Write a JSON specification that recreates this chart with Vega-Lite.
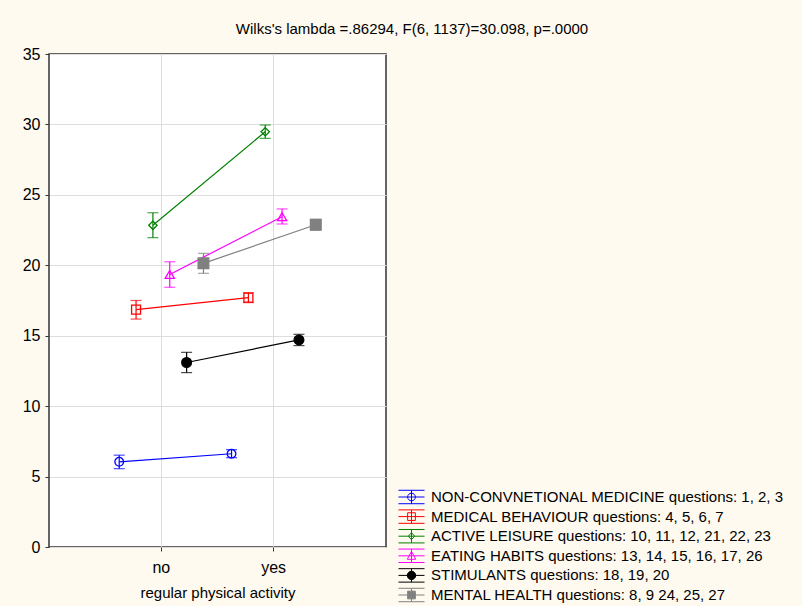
{
  "$schema": "https://vega.github.io/schema/vega-lite/v6.json",
  "autosize": {"type": "none"},
  "width": 337,
  "height": 493,
  "padding": {"left": 49, "top": 54, "right": 416, "bottom": 59},
  "background": "#FFFAF0",
  "title": {
    "text": "Wilks's lambda =.86294, F(6, 1137)=30.098, p=.0000",
    "font": "Liberation Sans",
    "fontSize": 15,
    "fontWeight": "normal",
    "color": "#000000",
    "anchor": "middle",
    "frame": "group",
    "dx": 194.5,
    "offset": 9
  },
  "config": {
    "view": {"fill": "#FFFFFF", "stroke": "#333333", "strokeWidth": 1.5},
    "axis": {
      "labelFont": "Liberation Sans",
      "titleFont": "Liberation Sans",
      "labelColor": "#000000",
      "titleColor": "#000000",
      "tickColor": "#333333",
      "gridColor": "#DDDDDD",
      "gridWidth": 1,
      "domain": false
    }
  },
  "data": {
    "values": [
      {"activity": "no", "series": "NON-CONVNETIONAL MEDICINE questions: 1,  2,  3", "mean": 6.05, "lo": 5.56, "hi": 6.52},
      {"activity": "yes", "series": "NON-CONVNETIONAL MEDICINE questions: 1,  2,  3", "mean": 6.62, "lo": 6.34, "hi": 6.91},
      {"activity": "no", "series": "MEDICAL BEHAVIOUR questions: 4, 5, 6, 7", "mean": 16.85, "lo": 16.18, "hi": 17.5},
      {"activity": "yes", "series": "MEDICAL BEHAVIOUR questions: 4, 5, 6, 7", "mean": 17.7, "lo": 17.35, "hi": 18.05},
      {"activity": "no", "series": "ACTIVE LEISURE questions: 10, 11, 12, 21, 22, 23", "mean": 22.84, "lo": 21.96, "hi": 23.73},
      {"activity": "yes", "series": "ACTIVE LEISURE questions: 10, 11, 12, 21, 22, 23", "mean": 29.48, "lo": 29.01, "hi": 29.96},
      {"activity": "no", "series": "EATING HABITS questions: 13, 14, 15, 16, 17, 26", "mean": 19.35, "lo": 18.44, "hi": 20.25},
      {"activity": "yes", "series": "EATING HABITS questions: 13, 14, 15, 16, 17, 26", "mean": 23.45, "lo": 22.93, "hi": 24.0},
      {"activity": "no", "series": "STIMULANTS questions: 18, 19, 20", "mean": 13.1, "lo": 12.38, "hi": 13.82},
      {"activity": "yes", "series": "STIMULANTS questions: 18, 19, 20", "mean": 14.7, "lo": 14.3, "hi": 15.1},
      {"activity": "no", "series": "MENTAL HEALTH questions: 8, 9  24, 25, 27", "mean": 20.14, "lo": 19.43, "hi": 20.85},
      {"activity": "yes", "series": "MENTAL HEALTH questions: 8, 9  24, 25, 27", "mean": 22.88, "lo": 22.5, "hi": 23.26}
    ]
  },
  "encoding": {
    "x": {
      "field": "activity",
      "type": "nominal",
      "scale": {"type": "band", "domain": ["no", "yes"], "paddingInner": 0.1, "paddingOuter": 0.55},
      "axis": {
        "title": "regular physical activity",
        "titleFontSize": 15,
        "titleFontWeight": "normal",
        "titlePadding": 10,
        "labelFontSize": 16,
        "labelAngle": 0,
        "labelPadding": 8,
        "tickSize": 4,
        "bandPosition": 0.5,
        "grid": true
      }
    },
    "xOffset": {
      "field": "series",
      "type": "nominal",
      "sort": null,
      "scale": {
        "domain": [
          "NON-CONVNETIONAL MEDICINE questions: 1,  2,  3",
          "MEDICAL BEHAVIOUR questions: 4, 5, 6, 7",
          "ACTIVE LEISURE questions: 10, 11, 12, 21, 22, 23",
          "EATING HABITS questions: 13, 14, 15, 16, 17, 26",
          "STIMULANTS questions: 18, 19, 20",
          "MENTAL HEALTH questions: 8, 9  24, 25, 27"
        ],
        "paddingInner": 0,
        "paddingOuter": 0
      }
    }
  },
  "resolve": {
    "scale": {"shape": "independent", "stroke": "independent", "fill": "independent"},
    "legend": {"shape": "independent", "stroke": "independent", "fill": "independent"}
  },
  "layer": [
    {
      "mark": {"type": "rule", "strokeWidth": 1.2},
      "encoding": {
        "y": {
          "field": "lo",
          "type": "quantitative",
          "scale": {"domain": [0, 35], "nice": false, "zero": true},
          "axis": {
            "title": null,
            "values": [0, 5, 10, 15, 20, 25, 30, 35],
            "labelFontSize": 16,
            "labelPadding": 5,
            "tickSize": 4,
            "grid": true
          }
        },
        "y2": {"field": "hi"},
        "color": {
          "field": "series",
          "type": "nominal",
          "legend": null,
          "scale": {
            "domain": [
              "NON-CONVNETIONAL MEDICINE questions: 1,  2,  3",
              "MEDICAL BEHAVIOUR questions: 4, 5, 6, 7",
              "ACTIVE LEISURE questions: 10, 11, 12, 21, 22, 23",
              "EATING HABITS questions: 13, 14, 15, 16, 17, 26",
              "STIMULANTS questions: 18, 19, 20",
              "MENTAL HEALTH questions: 8, 9  24, 25, 27"
            ],
            "range": ["#0000FF", "#FF0000", "#008000", "#FF00FF", "#000000", "#808080"]
          }
        }
      }
    },
    {
      "mark": {"type": "tick", "orient": "horizontal", "size": 11, "thickness": 1.2},
      "encoding": {
        "y": {"field": "lo", "type": "quantitative"},
        "color": {"field": "series", "type": "nominal", "legend": null}
      }
    },
    {
      "mark": {"type": "tick", "orient": "horizontal", "size": 11, "thickness": 1.2},
      "encoding": {
        "y": {"field": "hi", "type": "quantitative"},
        "color": {"field": "series", "type": "nominal", "legend": null}
      }
    },
    {
      "mark": {"type": "line", "strokeWidth": 1.2},
      "encoding": {
        "y": {"field": "mean", "type": "quantitative"},
        "color": {"field": "series", "type": "nominal", "legend": null}
      }
    },
    {
      "mark": {"type": "point", "filled": false, "strokeWidth": 1.3, "opacity": 1},
      "encoding": {
        "y": {"field": "mean", "type": "quantitative"},
        "size": {
          "field": "series",
          "type": "nominal",
          "legend": null,
          "scale": {
            "type": "ordinal",
            "domain": [
              "NON-CONVNETIONAL MEDICINE questions: 1,  2,  3",
              "MEDICAL BEHAVIOUR questions: 4, 5, 6, 7",
              "ACTIVE LEISURE questions: 10, 11, 12, 21, 22, 23",
              "EATING HABITS questions: 13, 14, 15, 16, 17, 26",
              "STIMULANTS questions: 18, 19, 20",
              "MENTAL HEALTH questions: 8, 9  24, 25, 27"
            ],
            "range": [75, 80, 70, 85, 95, 115]
          }
        },
        "shape": {
          "field": "series",
          "type": "nominal",
          "legend": null,
          "scale": {
            "domain": [
              "NON-CONVNETIONAL MEDICINE questions: 1,  2,  3",
              "MEDICAL BEHAVIOUR questions: 4, 5, 6, 7",
              "ACTIVE LEISURE questions: 10, 11, 12, 21, 22, 23",
              "EATING HABITS questions: 13, 14, 15, 16, 17, 26",
              "STIMULANTS questions: 18, 19, 20",
              "MENTAL HEALTH questions: 8, 9  24, 25, 27"
            ],
            "range": ["circle", "square", "diamond", "triangle-up", "circle", "square"]
          }
        },
        "stroke": {
          "field": "series",
          "type": "nominal",
          "legend": null,
          "scale": {
            "domain": [
              "NON-CONVNETIONAL MEDICINE questions: 1,  2,  3",
              "MEDICAL BEHAVIOUR questions: 4, 5, 6, 7",
              "ACTIVE LEISURE questions: 10, 11, 12, 21, 22, 23",
              "EATING HABITS questions: 13, 14, 15, 16, 17, 26",
              "STIMULANTS questions: 18, 19, 20",
              "MENTAL HEALTH questions: 8, 9  24, 25, 27"
            ],
            "range": ["#0000FF", "#FF0000", "#008000", "#FF00FF", "#000000", "#808080"]
          }
        },
        "fill": {
          "field": "series",
          "type": "nominal",
          "legend": null,
          "scale": {
            "domain": [
              "NON-CONVNETIONAL MEDICINE questions: 1,  2,  3",
              "MEDICAL BEHAVIOUR questions: 4, 5, 6, 7",
              "ACTIVE LEISURE questions: 10, 11, 12, 21, 22, 23",
              "EATING HABITS questions: 13, 14, 15, 16, 17, 26",
              "STIMULANTS questions: 18, 19, 20",
              "MENTAL HEALTH questions: 8, 9  24, 25, 27"
            ],
            "range": ["transparent", "transparent", "transparent", "transparent", "#000000", "#808080"]
          }
        }
      }
    },
    {
      "mark": {"type": "point", "filled": false, "opacity": 0, "strokeWidth": 1},
      "encoding": {
        "y": {"field": "mean", "type": "quantitative"},
        "shape": {
          "field": "series",
          "type": "nominal",
          "scale": {
            "domain": [
              "NON-CONVNETIONAL MEDICINE questions: 1,  2,  3",
              "MEDICAL BEHAVIOUR questions: 4, 5, 6, 7",
              "ACTIVE LEISURE questions: 10, 11, 12, 21, 22, 23",
              "EATING HABITS questions: 13, 14, 15, 16, 17, 26",
              "STIMULANTS questions: 18, 19, 20",
              "MENTAL HEALTH questions: 8, 9  24, 25, 27"
            ],
            "range": [
              "M-1.86,-0.96H1.86M-1.86,0H1.86M-1.86,0.96H1.86M0,-0.96V0.96M0.55,0A0.55,0.55,0,1,1,-0.55,0A0.55,0.55,0,1,1,0.55,0Z",
              "M-1.86,-0.96H1.86M-1.86,0H1.86M-1.86,0.96H1.86M0,-0.96V0.96M-0.55,-0.55H0.55V0.55H-0.55Z",
              "M-1.86,-0.96H1.86M-1.86,0H1.86M-1.86,0.96H1.86M0,-0.96V0.96M0,-0.5L0.45,0L0,0.5L-0.45,0Z",
              "M-1.86,-0.96H1.86M-1.86,0H1.86M-1.86,0.96H1.86M0,-0.96V0.96M0,-0.65L0.6,0.5H-0.6Z",
              "M-1.86,-0.96H1.86M-1.86,0H1.86M-1.86,0.96H1.86M0,-0.96V0.96M0.6,0A0.6,0.6,0,1,1,-0.6,0A0.6,0.6,0,1,1,0.6,0Z",
              "M-1.86,-0.96H1.86M-1.86,0H1.86M-1.86,0.96H1.86M0,-0.96V0.96M-0.55,-0.55H0.55V0.55H-0.55Z"
            ]
          },
          "legend": {
            "title": null,
            "orient": "none",
            "legendX": 355,
            "legendY": 435.5,
            "symbolSize": 196,
            "symbolStrokeWidth": 1,
            "symbolOpacity": 1,
            "labelFont": "Liberation Sans",
            "labelFontSize": 15,
            "labelColor": "#000000",
            "labelOffset": 12,
            "labelLimit": 500,
            "rowPadding": 0.6,
            "padding": 0
          }
        },
        "stroke": {
          "field": "series",
          "type": "nominal",
          "scale": {
            "domain": [
              "NON-CONVNETIONAL MEDICINE questions: 1,  2,  3",
              "MEDICAL BEHAVIOUR questions: 4, 5, 6, 7",
              "ACTIVE LEISURE questions: 10, 11, 12, 21, 22, 23",
              "EATING HABITS questions: 13, 14, 15, 16, 17, 26",
              "STIMULANTS questions: 18, 19, 20",
              "MENTAL HEALTH questions: 8, 9  24, 25, 27"
            ],
            "range": ["#0000FF", "#FF0000", "#008000", "#FF00FF", "#000000", "#808080"]
          },
          "legend": {
            "title": null,
            "orient": "none",
            "legendX": 355,
            "legendY": 435.5,
            "symbolSize": 196,
            "symbolStrokeWidth": 1,
            "symbolOpacity": 1,
            "labelFont": "Liberation Sans",
            "labelFontSize": 15,
            "labelColor": "#000000",
            "labelOffset": 12,
            "labelLimit": 500,
            "rowPadding": 0.6,
            "padding": 0
          }
        },
        "fill": {
          "field": "series",
          "type": "nominal",
          "scale": {
            "domain": [
              "NON-CONVNETIONAL MEDICINE questions: 1,  2,  3",
              "MEDICAL BEHAVIOUR questions: 4, 5, 6, 7",
              "ACTIVE LEISURE questions: 10, 11, 12, 21, 22, 23",
              "EATING HABITS questions: 13, 14, 15, 16, 17, 26",
              "STIMULANTS questions: 18, 19, 20",
              "MENTAL HEALTH questions: 8, 9  24, 25, 27"
            ],
            "range": ["transparent", "transparent", "transparent", "transparent", "#000000", "#808080"]
          },
          "legend": {
            "title": null,
            "orient": "none",
            "legendX": 355,
            "legendY": 435.5,
            "symbolSize": 196,
            "symbolStrokeWidth": 1,
            "symbolOpacity": 1,
            "labelFont": "Liberation Sans",
            "labelFontSize": 15,
            "labelColor": "#000000",
            "labelOffset": 12,
            "labelLimit": 500,
            "rowPadding": 0.6,
            "padding": 0
          }
        }
      }
    }
  ]
}
